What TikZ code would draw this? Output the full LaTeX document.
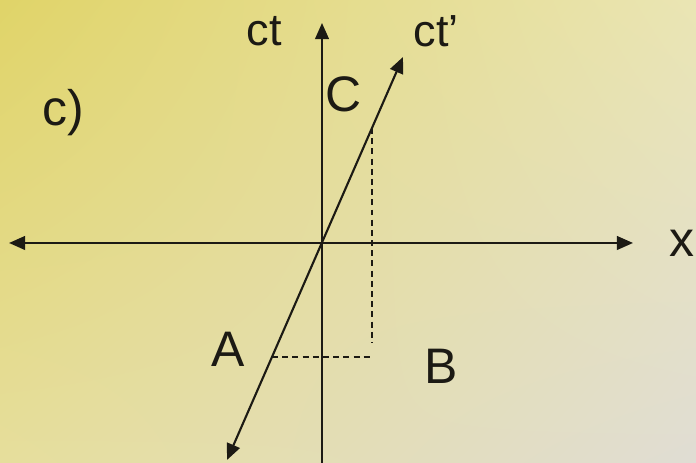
\documentclass[tikz,border=0pt]{standalone}
\usepackage{fontspec}
\setmainfont{Liberation Sans}
\usetikzlibrary{arrows.meta,shadings}
\definecolor{bgyellow}{RGB}{224,212,104}
\definecolor{bgpale}{RGB}{234,229,180}
\definecolor{bgsand}{RGB}{230,222,156}
\definecolor{bggrey}{RGB}{224,221,212}
\definecolor{inkdark}{RGB}{28,26,20}

\begin{document}
\begin{tikzpicture}[
    axis/.style={inkdark,line width=.6pt,-{Triangle[length=4.6pt,width=3.9pt]}},
    twoway/.style={inkdark,line width=.6pt,{Triangle[length=4.6pt,width=3.9pt]}-{Triangle[length=4.6pt,width=3.9pt]}},
    guide/.style={inkdark,line width=.45pt,dash pattern=on 1.7pt off 1.2pt},
    lbl/.style={inkdark,font=\fontsize{14.2}{14.2}\selectfont,inner sep=0pt},
    axlbl/.style={inkdark,font=\fontsize{12.8}{12.8}\selectfont,inner sep=0pt}]
  \shade[upper left=bgyellow,upper right=bgpale,lower left=bgsand,lower right=bggrey]
    (0,0) rectangle (6.96,4.63);
  \useasboundingbox (0,0) rectangle (6.96,4.63);
  \coordinate (O) at (3.22,2.20);
  \coordinate (xl) at (0.09,2.20);
  \coordinate (xr) at (6.33,2.20);
  \coordinate (tb) at (3.22,0);
  \coordinate (tt) at (3.22,4.40);
  \coordinate (pb) at (2.27,0.03);
  \coordinate (pt) at (4.03,4.06);
  \coordinate (C) at (3.72,3.35);
  \coordinate (A) at (2.72,1.06);
  \coordinate (cv) at (3.72,1.20);
  \coordinate (ch) at (3.72,1.06);
  \draw[twoway] (xl) -- (xr);
  \draw[axis] (tb) -- (tt);
  \draw[twoway] (pb) -- (pt);
  \draw[guide] (C) -- (cv);
  \draw[guide] (A) -- (ch);
  \node[lbl] (part) at (0.63,3.50) {c)};
  \node[axlbl] (ctlbl) at (2.64,4.32) {ct};
  \node[axlbl] (ctplbl) at (4.36,4.32) {ct’};
  \node[lbl] (xlbl) at (6.82,2.20) {x};
  \node[lbl] (Clbl) at (3.44,3.69) {C};
  \node[lbl] (Albl) at (2.28,1.14) {A};
  \node[lbl] (Blbl) at (4.41,0.97) {B};
\end{tikzpicture}
\end{document}
